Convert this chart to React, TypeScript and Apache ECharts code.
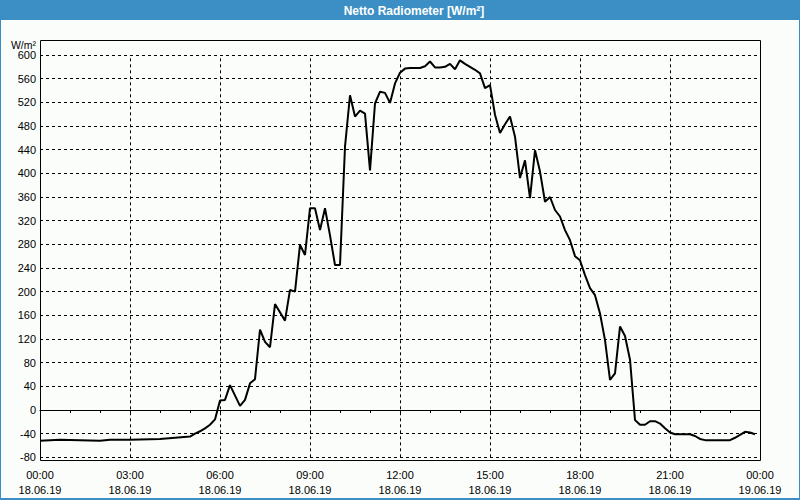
import React, { useEffect, useRef } from "react";
import * as echarts from "echarts";

const TITLE = "Netto Radiometer [W/m²]";
const Y_UNIT = "W/m²";

const times: string[] = [
  "00:00", "00:40", "02:00", "02:20", "03:00", "04:00", "04:30", "05:00", "05:10", "05:20",
  "05:30", "05:40", "05:50", "06:00", "06:10", "06:20", "06:40", "06:50", "07:00", "07:10",
  "07:20", "07:30", "07:40", "07:50", "08:10", "08:20", "08:30", "08:40", "08:50", "09:00",
  "09:10", "09:20", "09:30", "09:40", "09:50", "10:00", "10:10", "10:20", "10:30", "10:40",
  "10:50", "11:00", "11:10", "11:20", "11:30", "11:40", "11:50", "12:00", "12:10", "12:20",
  "12:30", "12:40", "12:50", "13:00", "13:10", "13:20", "13:30", "13:40", "13:50", "14:00",
  "14:10", "14:20", "14:30", "14:40", "14:50", "15:00", "15:10", "15:20", "15:30", "15:40",
  "15:50", "16:00", "16:10", "16:20", "16:30", "16:40", "16:50", "17:00", "17:10", "17:20",
  "17:30", "17:40", "17:50", "18:00", "18:10", "18:20", "18:30", "18:40", "18:50", "19:00",
  "19:10", "19:20", "19:30", "19:40", "19:50", "20:00", "20:10", "20:20", "20:30", "20:40",
  "20:50", "21:00", "21:10", "21:40", "21:50", "22:00", "22:10", "23:00", "23:10", "23:20",
  "23:30", "23:40", "23:50",
];

const values: number[] = [
  -52, -50.5, -52, -50.5, -50.5, -49, -47, -45, -40, -36,
  -31, -25, -16, 16, 17, 42, 7, 17, 45, 52,
  136, 115, 106, 179, 151, 203, 200, 279, 262, 341,
  341, 304, 341, 295, 245, 245, 445, 532, 496, 506,
  501, 405, 518, 538, 536, 519, 552, 570, 577, 578,
  578, 578, 581, 589, 579, 579, 580, 585, 576, 591,
  585, 580, 575, 569, 544, 549, 499, 468, 483, 496,
  462, 392, 422, 358, 439, 403, 352, 360, 338, 327,
  304, 287, 260, 253, 228, 206, 194, 163, 118, 51,
  62, 141, 125, 85, -17, -25, -25, -19, -19, -23,
  -31, -38, -41, -41, -44, -49, -51, -51, -47, -42,
  -37, -38, -41,
];

const xTickHours: number[] = [0, 3, 6, 9, 12, 15, 18, 21, 24];
const dayLabels: string[] = ["18.06.19", "19.06.19"];

const toHours = (t: string): number => {
  const [h, m] = t.split(":").map(Number);
  return h + m / 60;
};

const pad = (n: number) => (n < 10 ? "0" + n : "" + n);

export default function App() {
  const ref = useRef<HTMLDivElement>(null);

  useEffect(() => {
    document.body.style.margin = "0";
    if (!ref.current) return;
    const chart = echarts.init(ref.current, undefined, { renderer: "svg" });
    const font = "Liberation Sans";
    const blue = "#3b8fc4";
    const seriesData = times.map((t, i) => [toHours(t), values[i]]);

    chart.setOption({
      animation: false,
      backgroundColor: "#fbfdfb",
      grid: {
        left: 40,
        right: 40,
        top: 55,
        bottom: 42.7,
        containLabel: false,
        outerBoundsMode: "none",
      },
      xAxis: {
        type: "value",
        min: xTickHours[0],
        max: xTickHours[xTickHours.length - 1],
        interval: 3,
        offset: 3.3,
        axisLine: { show: true, lineStyle: { color: "#000", width: 1 } },
        axisTick: { show: true, length: 3, lineStyle: { color: "#000" } },
        minorTick: { show: true, splitNumber: 3, length: 3, lineStyle: { color: "#000" } },
        splitLine: { show: false },
        axisLabel: {
          show: true,
          margin: 7,
          fontSize: 11,
          lineHeight: 15,
          fontFamily: font,
          color: "#000",
          showMinLabel: true,
          showMaxLabel: true,
          formatter: (v: number) => {
            const h = Math.round(v);
            return pad(h % 24) + ":00\n" + (h < 24 ? dayLabels[0] : dayLabels[1]);
          },
        },
      },
      yAxis: {
        type: "value",
        min: -80,
        max: 600,
        interval: 40,
        axisLine: { show: true, lineStyle: { color: "#000", width: 1 } },
        axisTick: { show: false },
        splitLine: {
          show: true,
          lineStyle: { color: "#000", width: 1, type: [3, 3] },
        },
        axisLabel: {
          margin: 4,
          fontSize: 11,
          fontFamily: font,
          color: "#000",
        },
      },
      series: [
        {
          type: "line",
          data: seriesData,
          showSymbol: false,
          symbol: "none",
          lineStyle: { color: "#000", width: 2 },
          z: 5,
        },
        {
          type: "line",
          data: [],
          markLine: {
            silent: true,
            symbol: "none",
            label: { show: false },
            lineStyle: { color: "#000", width: 1, type: [3, 3] },
            data: xTickHours.slice(1, -1).map((h) => ({ xAxis: h })),
          },
        },
      ],
      graphic: [
        {
          type: "rect",
          shape: { x: 0, y: 0, width: 800, height: 20 },
          style: { fill: blue },
          z: 10,
        },
        {
          type: "text",
          x: 414,
          y: 11,
          style: {
            text: TITLE,
            fill: "#fff",
            font: "bold 12px 'Liberation Sans'",
            textAlign: "center",
            textVerticalAlign: "middle",
          },
          z: 11,
        },
        {
          type: "rect",
          shape: { x: 0, y: 0, width: 800, height: 500 },
          style: { fill: "none", stroke: blue, lineWidth: 2 },
          z: 10,
        },
        {
          type: "rect",
          shape: { x: 0, y: 498, width: 800, height: 2 },
          style: { fill: blue },
          z: 10,
        },
        {
          type: "rect",
          shape: { x: 40.5, y: 40.5, width: 720, height: 420 },
          style: { fill: "none", stroke: "#000", lineWidth: 1 },
          z: 10,
        },
        {
          type: "text",
          x: 36,
          y: 44.5,
          style: {
            text: Y_UNIT,
            fill: "#000",
            font: "10.5px 'Liberation Sans'",
            textAlign: "right",
            textVerticalAlign: "middle",
          },
          z: 11,
        },
      ],
    });

    return () => chart.dispose();
  }, []);

  return (
    <div
      ref={ref}
      style={{ position: "absolute", left: 0, top: 0, width: 800, height: 500 }}
    />
  );
}
